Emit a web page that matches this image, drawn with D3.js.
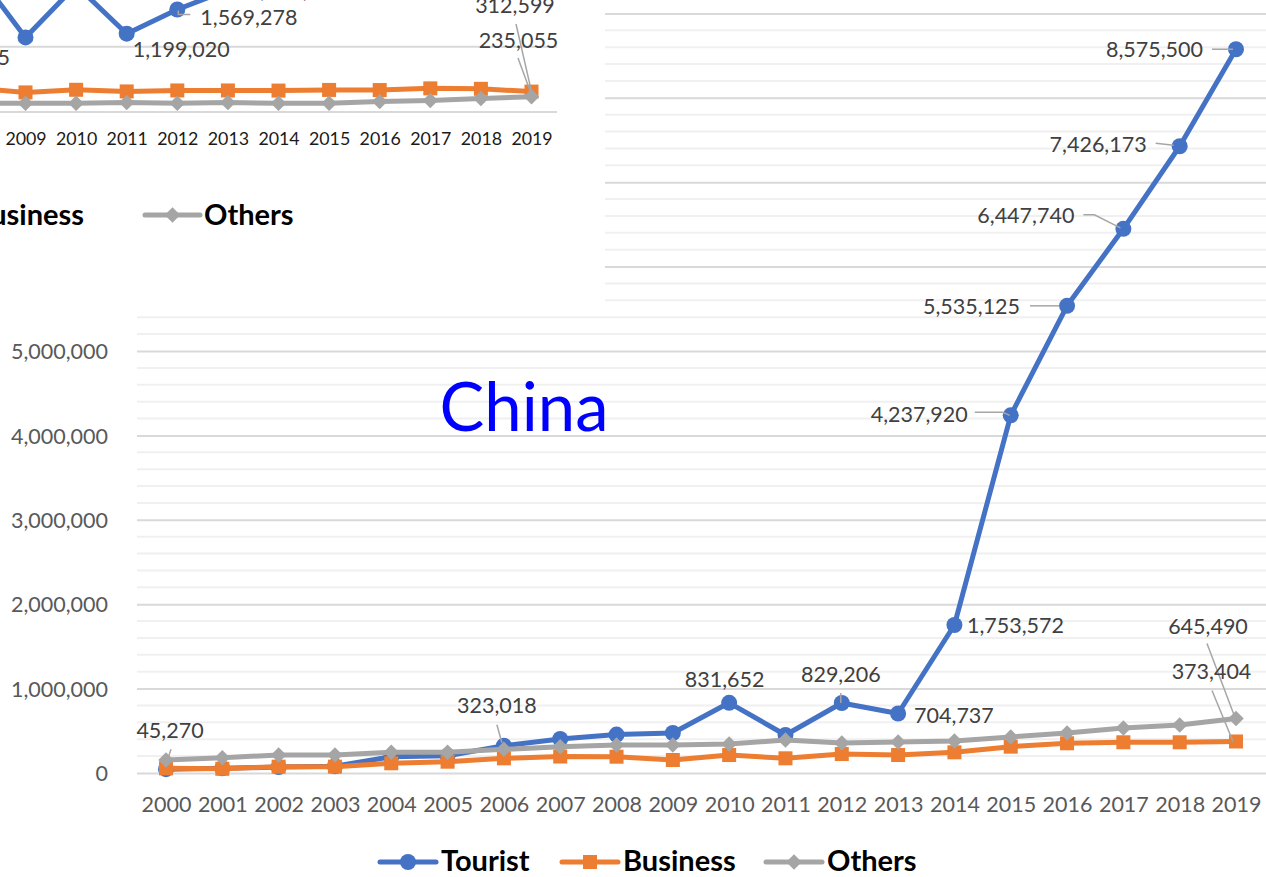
<!DOCTYPE html>
<html><head><meta charset="utf-8">
<script src="https://cdn.jsdelivr.net/npm/d3@7"></script>
<style>body{margin:0;background:#fff}svg{display:block}</style>
</head><body>
<svg id="c" width="1266" height="877"></svg>
<script>
// ---------- Main chart (China) ----------
const years = [2000,2001,2002,2003,2004,2005,2006,2007,2008,2009,2010,2011,2012,2013,2014,2015,2016,2017,2018,2019];
const tourist  = [45270,55000,70000,80000,193000,205000,323018,403000,455000,474000,831652,450000,829206,704737,1753572,4237920,5535125,6447740,7426173,8575500];
const business = [55000,50000,75000,75000,115000,134000,174000,195000,193000,154000,213000,174000,225000,213000,245000,312000,352000,364000,364000,373404];
const others   = [154000,181000,213000,213000,245000,245000,280000,310000,332000,332000,343000,391000,355000,367000,379000,427000,474000,533000,569000,645490];
const yTicks = [0,1000000,2000000,3000000,4000000,5000000,6000000,7000000,8000000,9000000];
const seriesNames = ["Tourist","Business","Others"];
const title = "China";

// ---------- Partial chart behind (top-left) ----------
const bgYears    = [2008,2009,2010,2011,2012,2013,2014,2015,2016,2017,2018,2019];
const bgTickYears = [2009,2010,2011,2012,2013,2014,2015,2016,2017,2018,2019];
const bgTourist  = [2170000,1142385,1940000,1199020,1569278,1870000,null,null,null,null,null,null];
const bgBusiness = [365000,300000,340000,315000,330000,330000,328000,338000,336000,362000,355000,312599];
const bgOthers   = [133000,133000,133000,144000,133000,144000,133000,133000,159000,175000,205000,235055];
const bgYTicks   = [0,1000000,2000000];

const C = {Tourist:"#4472C4", Business:"#ED7D31", Others:"#A5A5A5"};
const FONT = "Lato, 'Open Sans', sans-serif";
const fmt = d3.format(",");
const svg = d3.select("#c");

function marker(g, name, cx, cy, s) {
  if (name === "Tourist") {
    g.append("circle").attr("cx",cx).attr("cy",cy).attr("r",8*s).attr("fill",C.Tourist);
  } else if (name === "Business") {
    g.append("rect").attr("x",cx-7*s).attr("y",cy-7*s).attr("width",14*s).attr("height",14*s).attr("fill",C.Business);
  } else {
    g.append("path").attr("d", d3.symbol(d3.symbolSquare, 120*s*s)())
      .attr("transform",`translate(${cx},${cy}) rotate(45)`).attr("fill",C.Others);
  }
}

// ===== Main chart =====
const x = d3.scalePoint().domain(years).range([166,1236]);
const y = d3.scaleLinear().domain([0,9000000]).range([773,773-9*84.4]);
const gMain = svg.append("g");

// minor gridlines
const minor = d3.range(0,47).map(i=>i*200000).filter(v=>v%1000000!==0);
gMain.append("g").selectAll("line").data(minor).join("line")
  .attr("x1",137).attr("x2",1266).attr("y1",d=>y(d)).attr("y2",d=>y(d))
  .attr("stroke","#f0f0f0").attr("stroke-width",2);

// y axis + major gridlines
const yAx = gMain.append("g").attr("transform","translate(137,0)")
  .call(d3.axisLeft(y).tickValues(yTicks).tickSize(-(1266-137)).tickPadding(29).tickFormat(fmt));
yAx.select(".domain").remove();
yAx.selectAll(".tick line").attr("stroke","#d9d9d9").attr("stroke-width",2);
yAx.selectAll(".tick text").attr("fill","#595959").style("font-family",FONT).style("font-size","21.5px").attr("dy","0.36em");

// x axis
const xAx = gMain.append("g").attr("transform","translate(0,773)")
  .call(d3.axisBottom(x).tickSize(0).tickPadding(23.5));
xAx.select(".domain").remove();
xAx.selectAll(".tick text").attr("fill","#595959").style("font-family",FONT).style("font-size","21.5px");

// title
gMain.append("text").attr("x",524).attr("y",431).attr("text-anchor","middle")
  .attr("fill","#0000FF").style("font-family",FONT).style("font-size","67px").text(title);

// series
const data = {Tourist:tourist, Business:business, Others:others};
const line = d3.line().x((d,i)=>x(years[i])).y(d=>y(d));
seriesNames.forEach(n=>{
  const g = gMain.append("g");
  g.append("path").attr("d",line(data[n])).attr("fill","none").attr("stroke",C[n])
    .attr("stroke-width",5).attr("stroke-linejoin","round").attr("stroke-linecap","round");
  data[n].forEach((v,i)=>marker(g,n,x(years[i]),y(v),1));
});

// data labels: [series, year, anchor, dx, dy, leader offsets]
const mainLabels = [
  ["Tourist",2000,"middle",4,-31,[[5,-20],[1,-8]]],
  ["Tourist",2006,"middle",-7,-33,[[-7,-21],[-2,-3]]],
  ["Tourist",2010,"middle",-4.5,-16,null],
  ["Tourist",2012,"middle",-1,-21,[[-1,-10],[-1,0]]],
  ["Tourist",2013,"start",16,9.5,null],
  ["Tourist",2014,"start",12.5,8,null],
  ["Tourist",2015,"end",-43,7,[[-36,-3],[-8,-3],[-1,0]]],
  ["Tourist",2016,"end",-47,8,[[-37,0],[-8,0]]],
  ["Tourist",2017,"end",-49,-6,[[-40,-14],[-29,-14],[-3,-1]]],
  ["Tourist",2018,"end",-33,6,[[-24,-3],[-6,-1]]],
  ["Tourist",2019,"end",-33,8,[[-24,0],[-3,0]]],
  ["Others",2019,"middle",-28,-85,[[-29,-75],[-1,-1]]],
  ["Business",2019,"middle",-24.5,-62,[[-24,-51],[-3,0]]]
];
const gLab = gMain.append("g");
mainLabels.forEach(([n,yr,anc,dx,dy,lead])=>{
  const i = years.indexOf(yr), px = x(yr), py = y(data[n][i]);
  if (lead) gLab.append("path").attr("d",d3.line()(lead.map(p=>[px+p[0],py+p[1]])))
      .attr("fill","none").attr("stroke","#a6a6a6").attr("stroke-width",1.5);
  gLab.append("text").attr("x",px+dx).attr("y",py+dy).attr("text-anchor",anc)
    .attr("fill","#404040").style("font-family",FONT).style("font-size","21.5px").text(fmt(data[n][i]));
});

// legend
const legX = {Tourist:380, Business:562, Others:766};
seriesNames.forEach(n=>{
  const g = gMain.append("g"), lx = legX[n];
  g.append("line").attr("x1",lx).attr("x2",lx+56).attr("y1",862).attr("y2",862)
    .attr("stroke",C[n]).attr("stroke-width",5).attr("stroke-linecap","round");
  marker(g,n,lx+28,862,1);
  g.append("text").attr("x",lx+61).attr("y",871).attr("fill","#000").style("font-family",FONT)
    .style("font-weight","bold").style("font-size","29px").text(n);
});

// ===== Partial chart (overlapping image at top-left) =====
const gBg = svg.append("g");
gBg.append("rect").attr("x",0).attr("y",0).attr("width",605).attr("height",308).attr("fill","#fff");
const bx = d3.scalePoint().domain(bgYears).range([531.5-11*50.6,531.5]);
const by = d3.scaleLinear().domain([0,1000000]).range([112,112-65.3]);
gBg.append("g").selectAll("line").data(bgYTicks).join("line")
  .attr("x1",0).attr("x2",557).attr("y1",d=>by(d)).attr("y2",d=>by(d))
  .attr("stroke","#d9d9d9").attr("stroke-width",2);
const bxAx = gBg.append("g").attr("transform","translate(0,112)")
  .call(d3.axisBottom(bx).tickValues(bgTickYears).tickSize(0).tickPadding(20));
bxAx.select(".domain").remove();
bxAx.selectAll(".tick text").attr("fill","#1a1a1a").style("font-family",FONT).style("font-size","17.8px");

const bgData = {Tourist:bgTourist, Business:bgBusiness, Others:bgOthers};
const bLine = d3.line().defined(d=>d!==null).x((d,i)=>bx(bgYears[i])).y(d=>by(d));
seriesNames.forEach(n=>{
  const g = gBg.append("g");
  g.append("path").attr("d",bLine(bgData[n])).attr("fill","none").attr("stroke",C[n])
    .attr("stroke-width",5).attr("stroke-linejoin","round").attr("stroke-linecap","round");
  bgData[n].forEach((v,i)=>{ if (v!==null) marker(g,n,bx(bgYears[i]),by(v),1); });
});

const bgLabels = [
  ["Tourist",2009,"end",-15.5,27.6,null],
  ["Tourist",2011,"start",6,23,null],
  ["Tourist",2012,"start",23,15.5,[[1,1],[1,5],[13,5]]],
  ["Tourist",2013,"start",20,8,null],
  ["Business",2019,"middle",-16.5,-78.6,[[-15.5,-67.6],[0,0]]],
  ["Others",2019,"middle",-13,-48.6,[[-13.5,-38.6],[0,-2]]]
];
bgLabels.forEach(([n,yr,anc,dx,dy,lead])=>{
  const i = bgYears.indexOf(yr), px = bx(yr), py = by(bgData[n][i]);
  if (lead) gBg.append("path").attr("d",d3.line()(lead.map(p=>[px+p[0],py+p[1]])))
      .attr("fill","none").attr("stroke","#a6a6a6").attr("stroke-width",1.5);
  gBg.append("text").attr("x",px+dx).attr("y",py+dy).attr("text-anchor",anc)
    .attr("fill","#404040").style("font-family",FONT).style("font-size","21.5px").text(fmt(bgData[n][i]));
});

// partial legend
gBg.append("text").attr("x",84).attr("y",225).attr("text-anchor","end").attr("fill","#000")
  .style("font-family",FONT).style("font-weight","bold").style("font-size","29px").text("Business");
const gl = gBg.append("g");
gl.append("line").attr("x1",145).attr("x2",200).attr("y1",215).attr("y2",215)
  .attr("stroke",C.Others).attr("stroke-width",5).attr("stroke-linecap","round");
marker(gl,"Others",172.5,215,1);
gl.append("text").attr("x",204).attr("y",225).attr("fill","#000").style("font-family",FONT)
  .style("font-weight","bold").style("font-size","29px").text("Others");
</script>
</body></html>
